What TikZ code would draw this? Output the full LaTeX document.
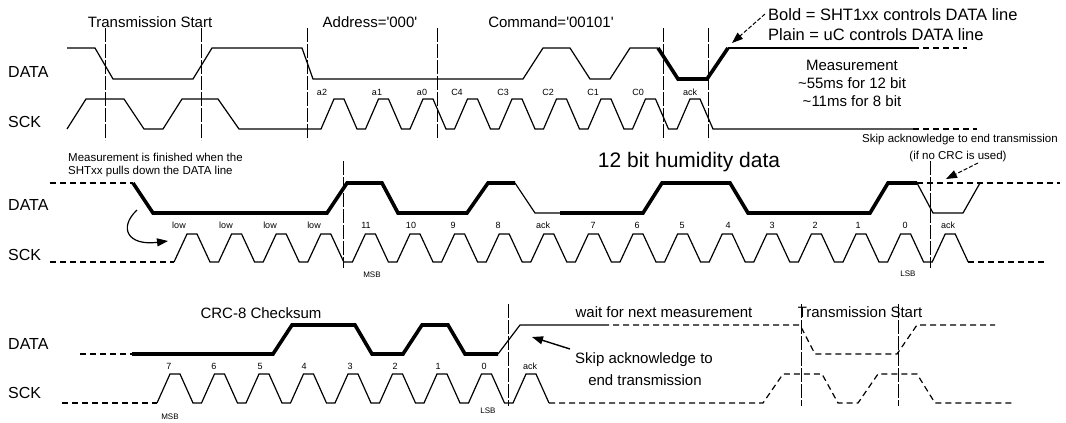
\documentclass[tikz,border=0pt]{standalone}
\usepackage{fontspec}
\setmainfont{Liberation Sans}
\usetikzlibrary{arrows.meta}
\begin{document}
\begin{tikzpicture}[x=1pt,y=-1pt,
  sig/.style={line width=1.2pt},
  bsig/.style={line width=3.6pt},
  dsig/.style={line width=1.2pt,dash pattern=on 6pt off 4pt},
  vline/.style={line width=0.9pt,dash pattern=on 14pt off 2pt},
  ttl/.style={font=\fontsize{15}{18}\selectfont,inner sep=0pt},
  big/.style={font=\fontsize{21}{24}\selectfont,inner sep=0pt},
  note/.style={font=\fontsize{11.5}{13}\selectfont,inner sep=0pt},
  rowlab/.style={font=\fontsize{16}{18}\selectfont,inner sep=0pt,anchor=west},
  bitlab/.style={font=\fontsize{9}{10}\selectfont,inner sep=0pt},
  sblab/.style={font=\fontsize{8}{9}\selectfont,inner sep=0pt},
  tip/.style={-{Triangle[length=11pt,width=8pt]}},
]
\useasboundingbox (0,0) rectangle (1066,423);

% ================= Row 1 =================
\node[rowlab] (data1) at (8,72) {DATA};
\node[rowlab] (sck1) at (8,122) {SCK};
\node[ttl] (ts1) at (150,22) {Transmission Start};
\node[ttl] (addr) at (370,22) {Address=\textquotesingle000\textquotesingle};
\node[ttl] (cmd) at (551,22) {Command=\textquotesingle00101\textquotesingle};
\node[font=\fontsize{16.5}{19}\selectfont,inner sep=0pt,anchor=west] (boldnote) at (768,15) {Bold = SHT1xx controls DATA line};
\node[font=\fontsize{16.5}{19}\selectfont,inner sep=0pt,anchor=west] (plainnote) at (768,35) {Plain = uC controls DATA line};
\node[ttl] (meas1) at (852,65) {Measurement};
\node[ttl] (meas2) at (852,83) {{\textasciitilde}55ms for 12 bit};
\node[ttl] (meas3) at (852,101) {{\textasciitilde}11ms for 8 bit};

\foreach \x in {105,201,307,437,663,708} \draw[vline] (\x,28) -- (\x,140);

\draw[sig] (67,48) -- (95,48) -- (113,79) -- (193,79) -- (212,48) -- (302,48) -- (313,79)
  -- (523,79) -- (543,48) -- (570,48) -- (590,79) -- (610,79) -- (630,48) -- (658,48);
\draw[bsig] (658,48) -- (678,79) -- (707,79) -- (728,48);
\draw[sig] (728,48) -- (913,48);
\draw[dsig] (913,48) -- (967,48);

\draw[sig] (67,129) -- (86,99) -- (124,99) -- (144,129) -- (163,129) -- (182,99) -- (218,99) -- (239,129)
  \foreach \c in {339,383.5,428,472.5,517,561.5,606,650.5,695} { -- (\c-18,129) -- (\c-5,99) -- (\c+5,99) -- (\c+18,129) }
  -- (913,129);
\draw[dsig] (913,129) -- (977,129);

\foreach \x/\t [count=\i] in {322/a2,377/a1,422/a0,457/C4,503/C3,548/C2,593/C1,638/C0,690/ack}
  \node[bitlab] (b1-\i) at (\x,92) {\t};

\coordinate (a1s) at (765,14);
\coordinate (a1e) at (732,43);
\draw[tip,line width=1pt,dash pattern=on 4pt off 2pt] (a1s) -- (a1e);

% ================= Row 2 =================
\node[rowlab] (data2) at (8,205) {DATA};
\node[rowlab] (sck2) at (8,255) {SCK};
\node[note,anchor=west] (fin1) at (68,157) {Measurement is finished when the};
\node[note,anchor=west] (fin2) at (68,172) {SHTxx pulls down the DATA line};
\node[big] (hum) at (689,162) {12 bit humidity data};
\node[note] (skip2a) at (960,140) {Skip acknowledge to end transmission};
\node[note] (skip2b) at (958,157) {(if no CRC is used)};

\foreach \x in {343,930} \draw[vline] (\x,161) -- (\x,268);

\draw[dsig] (50,183) -- (133,183);
\draw[bsig] (133,183) -- (153,213) -- (327,213) -- (347,183) -- (382,183) -- (398,213) -- (467,213) -- (488,183) -- (515,183);
\draw[sig] (515,183) -- (535,213) -- (560,213);
\draw[bsig] (560,213) -- (643,213) -- (662,183) -- (730,183) -- (748,213) -- (870,213) -- (888,183) -- (917,183);
\draw[sig] (917,183) -- (933,213) -- (963,213) -- (980,183);
\draw[dsig] (917,183) -- (1060,183);

\draw[dsig] (50,262) -- (174,262);
\draw[sig] (174,262)
  \foreach \c in {192,236.6,281.2,325.8,370.4,415,459.6,504.2,548.8,593.4,638,682.6,727.2,771.8,816.4,861,905.6,950.2}
    { -- (\c-18,262) -- (\c-5,234) -- (\c+5,234) -- (\c+18,262) };
\draw[dsig] (968,262) -- (1047,262);

\foreach \x/\t [count=\i] in {179/low,226/low,270/low,314/low,366/11,411/10,453/9,498/8,543/ack,593/7,637/6,682/5,728/4,772/3,815/2,858/1,905/0,948/ack}
  \node[bitlab] (b2-\i) at (\x,225) {\t};
\node[sblab] (msb2) at (372,275) {MSB};
\node[sblab] (lsb2) at (908,274) {LSB};

\coordinate (c2s) at (137,210);
\coordinate (c2e) at (168,241);
\draw[tip,line width=1.2pt] (c2s) .. controls (118,228) and (128,246) .. (c2e);

\coordinate (a2s) at (978,163);
\coordinate (a2e) at (946,179);
\draw[tip,line width=1pt,dash pattern=on 4pt off 2pt] (a2s) -- (a2e);

% ================= Row 3 =================
\node[rowlab] (data3) at (8,344) {DATA};
\node[rowlab] (sck3) at (8,393) {SCK};
\node[ttl] (crc) at (261,313) {CRC-8 Checksum};
\node[ttl] (wait) at (664,312) {wait for next measurement};
\node[ttl] (skip3a) at (644,360) {Skip acknowledge to};
\node[ttl] (skip3b) at (645,380) {end transmission};
\node[ttl] (ts3) at (860,312) {Transmission Start};

\foreach \x in {508,801,898} \draw[vline] (\x,304) -- (\x,406);

\draw[dsig] (80,354) -- (132,354);
\draw[bsig] (132,354) -- (273,354) -- (292,325) -- (355,325) -- (372,354) -- (403,354) -- (422,325) -- (448,325) -- (465,354) -- (498,354);
\draw[sig] (498,354) -- (520,325) -- (603,325);
\draw[dsig] (603,325) -- (800,325) -- (815,354) -- (897,354) -- (917,325) -- (995,325);

\draw[dsig] (62,403) -- (157,403);
\draw[sig] (157,403)
  \foreach \c in {175,219.5,264,308.5,353,397.5,442,486.5,531}
    { -- (\c-18,403) -- (\c-5,374) -- (\c+5,374) -- (\c+18,403) };
\draw[dsig] (549,403) -- (763,403) -- (783,374) -- (822,374) -- (838,403) -- (858,403) -- (878,374) -- (917,374) -- (935,403) -- (1013,403);

\foreach \x/\t [count=\i] in {169/7,214/6,260/5,304/4,350/3,395/2,438/1,484/0,530/ack}
  \node[bitlab] (b3-\i) at (\x,366) {\t};
\node[sblab] (msb3) at (170,417) {MSB};
\node[sblab] (lsb3) at (488,411) {LSB};

\coordinate (a3s) at (570,349);
\coordinate (a3e) at (532,337);
\draw[tip,line width=1.4pt] (a3s) -- (a3e);
\end{tikzpicture}
\end{document}
